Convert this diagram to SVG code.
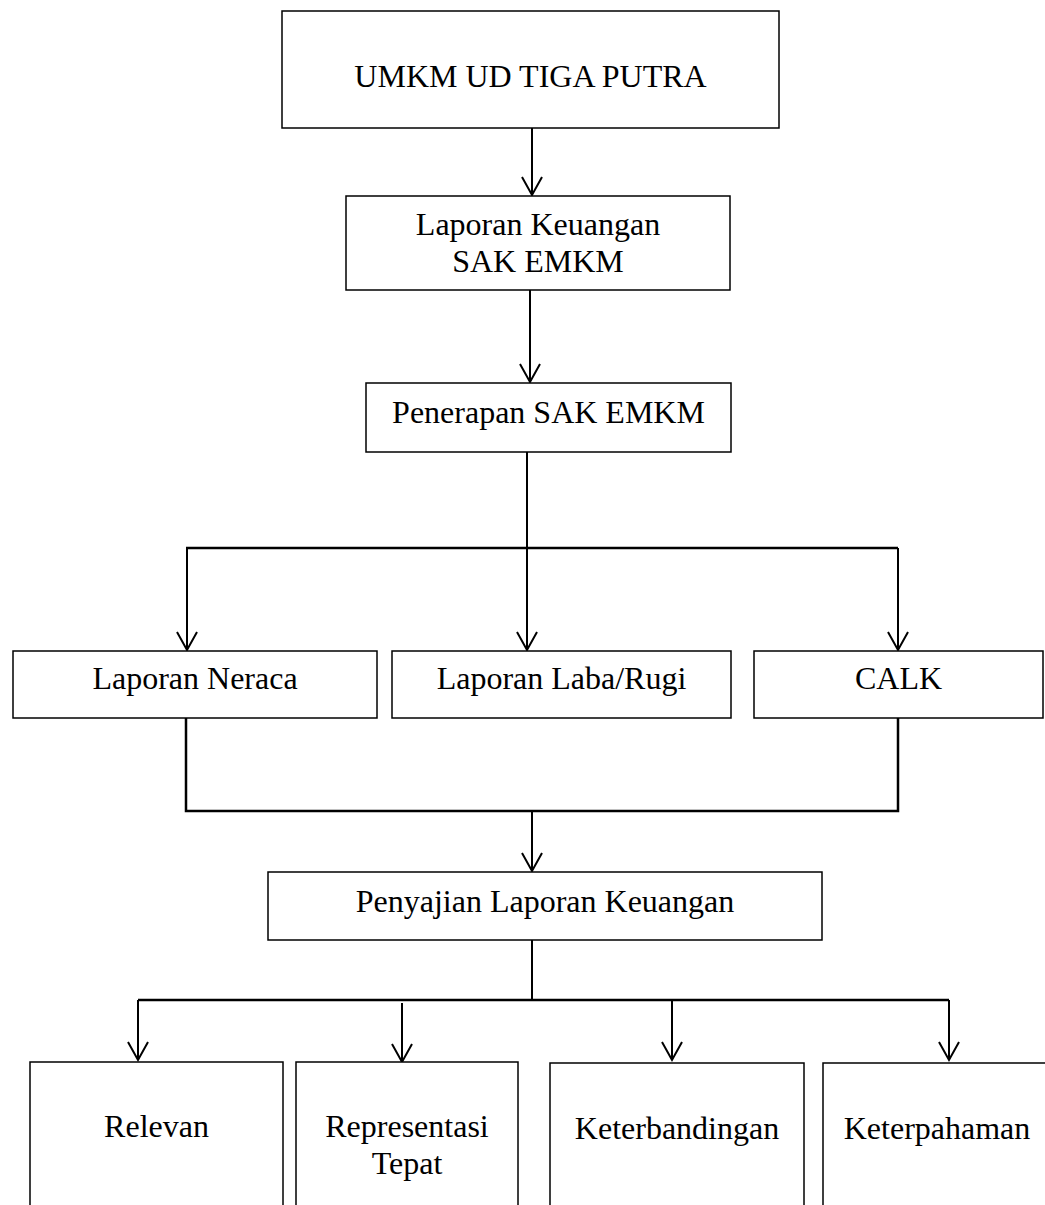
<svg xmlns="http://www.w3.org/2000/svg" width="1045" height="1205" viewBox="0 0 1045 1205">
<style>
.box{fill:#fff;stroke:#000;stroke-width:1.5}
.t{font-family:"Liberation Serif","Times New Roman",serif;font-size:32px;fill:#000;text-anchor:middle}
.c{fill:none;stroke:#000;stroke-width:2}
.ah{fill:none;stroke:#000;stroke-width:2;stroke-linejoin:miter}
</style>
<rect width="1045" height="1205" fill="#fff"/>
<g id="connectors">
  <line class="c" x1="532" y1="128" x2="532" y2="195"/>
  <polyline class="ah" points="522,177 532,195 542,177"/>
  <line class="c" x1="530" y1="290" x2="530" y2="382"/>
  <polyline class="ah" points="520,364 530,382 540,364"/>
  <line class="c" x1="527" y1="452" x2="527" y2="650"/>
  <line class="c" x1="186" y1="548" x2="898" y2="548" style="stroke-width:2.5"/>
  <line class="c" x1="187" y1="548" x2="187" y2="650"/>
  <line class="c" x1="898" y1="548" x2="898" y2="650"/>
  <polyline class="ah" points="177,632 187,650 197,632"/>
  <polyline class="ah" points="517,632 527,650 537,632"/>
  <polyline class="ah" points="888,632 898,650 908,632"/>
  <polyline class="c" points="186,718 186,811 898,811 898,718" style="stroke-width:2.5"/>
  <line class="c" x1="532" y1="811" x2="532" y2="871"/>
  <polyline class="ah" points="522,853 532,871 542,853"/>
  <line class="c" x1="532" y1="940" x2="532" y2="1000"/>
  <line class="c" x1="138" y1="1000" x2="949" y2="1000" style="stroke-width:2.5"/>
  <line class="c" x1="138" y1="1000" x2="138" y2="1060"/>
  <line class="c" x1="402" y1="1003" x2="402" y2="1062"/>
  <line class="c" x1="672" y1="1000" x2="672" y2="1060"/>
  <line class="c" x1="949" y1="1000" x2="949" y2="1060"/>
  <polyline class="ah" points="128,1042 138,1060 148,1042"/>
  <polyline class="ah" points="392,1044 402,1062 412,1044"/>
  <polyline class="ah" points="662,1042 672,1060 682,1042"/>
  <polyline class="ah" points="939,1042 949,1060 959,1042"/>
</g>
<g id="n-umkm">
  <rect class="box" x="282" y="11" width="497" height="117"/>
  <text class="t" x="530.5" y="87">UMKM UD TIGA PUTRA</text>
</g>
<g id="n-laporan-sak">
  <rect class="box" x="346" y="196" width="384" height="94"/>
  <text class="t" x="538" y="235">Laporan Keuangan</text>
  <text class="t" x="538" y="272">SAK EMKM</text>
</g>
<g id="n-penerapan">
  <rect class="box" x="366" y="383" width="365" height="69"/>
  <text class="t" x="548.5" y="423">Penerapan SAK EMKM</text>
</g>
<g id="n-neraca">
  <rect class="box" x="13" y="651" width="364" height="67"/>
  <text class="t" x="195" y="689">Laporan Neraca</text>
</g>
<g id="n-labarugi">
  <rect class="box" x="392" y="651" width="339" height="67"/>
  <text class="t" x="561.5" y="689">Laporan Laba/Rugi</text>
</g>
<g id="n-calk">
  <rect class="box" x="754" y="651" width="289" height="67"/>
  <text class="t" x="898.5" y="689">CALK</text>
</g>
<g id="n-penyajian">
  <rect class="box" x="268" y="872" width="554" height="68"/>
  <text class="t" x="545" y="912">Penyajian Laporan Keuangan</text>
</g>
<g id="n-relevan">
  <rect class="box" x="30" y="1062" width="253" height="160"/>
  <text class="t" x="156.5" y="1137">Relevan</text>
</g>
<g id="n-representasi">
  <rect class="box" x="296" y="1062" width="222" height="160"/>
  <text class="t" x="407" y="1137">Representasi</text>
  <text class="t" x="407" y="1174">Tepat</text>
</g>
<g id="n-keterbandingan">
  <rect class="box" x="550" y="1063" width="254" height="160"/>
  <text class="t" x="677" y="1139">Keterbandingan</text>
</g>
<g id="n-keterpahaman">
  <rect class="box" x="823" y="1063" width="230" height="160"/>
  <text class="t" x="937" y="1139">Keterpahaman</text>
</g>
</svg>
